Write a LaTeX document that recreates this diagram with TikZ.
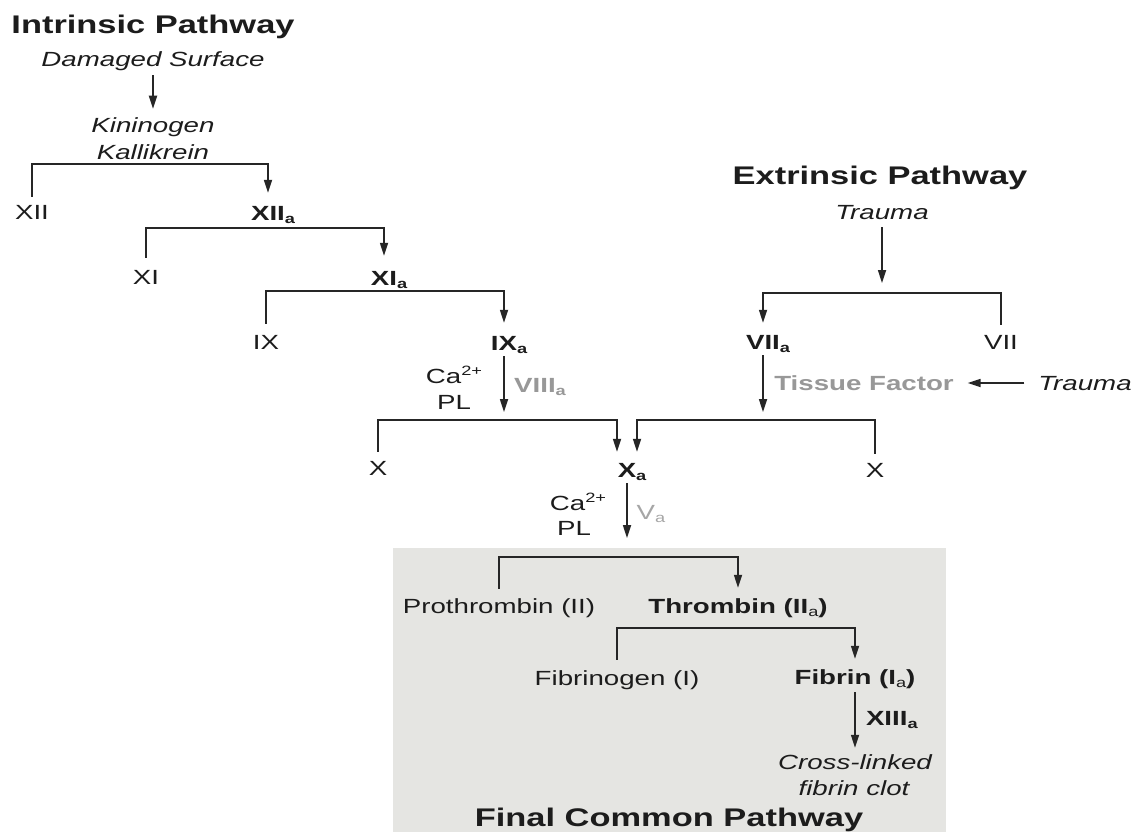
\documentclass[tikz,border=0pt]{standalone}
\usepackage{fontspec}
\setmainfont[FakeStretch=1.35]{Liberation Sans}
\usetikzlibrary{arrows.meta}
\definecolor{ink}{HTML}{1C1C1C}
\definecolor{ln}{HTML}{262626}
\definecolor{greytxt}{HTML}{989898}
\definecolor{greylt}{HTML}{A6A6A6}
\definecolor{boxfill}{HTML}{E5E5E2}
\newcommand\subs[1]{\rlap{\raisebox{-3pt}{\fontsize{13.5}{13.5}\selectfont #1}}}
\newcommand\subin[1]{\raisebox{-3pt}{\fontsize{13.5}{13.5}\selectfont #1}}
\newcommand\supx[1]{\raisebox{8pt}{\fontsize{13.5}{13.5}\selectfont #1}}
\begin{document}
\begin{tikzpicture}[x=1pt,y=-1pt,
  lab/.style={inner sep=0pt, outer sep=0pt, text height=14.5pt, text depth=0pt,
    font=\fontsize{20.5}{24}\selectfont, text=ink},
  ital/.style={lab, font=\fontsize{20.5}{24}\selectfont\itshape},
  bld/.style={lab, font=\fontsize{20.5}{24}\selectfont\bfseries},
  ttl/.style={inner sep=0pt, outer sep=0pt, text height=18pt, text depth=0pt,
    font=\fontsize{25.5}{30}\selectfont\bfseries, text=ink},
  arr/.style={draw=ln, line width=1.7pt, -{Triangle[length=13pt,width=8pt]}},
  ]
\useasboundingbox (0,0) rectangle (1138,832);
\fill[white] (0,0) rectangle (1138,832);
\fill[boxfill] (393,548) rectangle (946,832);

% helper levels
\coordinate (y1) at (0,164);
\coordinate (y2) at (0,228);
\coordinate (y3) at (0,291);
\coordinate (y4) at (0,420);
\coordinate (y5) at (0,293);
\coordinate (y6) at (0,557);
\coordinate (y7) at (0,628);
\coordinate (ye) at (0,538);

% Intrinsic pathway
\node[ttl] (tI) at (153,25) {Intrinsic Pathway};
\node[ital] (ds) at (153,59) {Damaged Surface};
\node[ital] (kin) at (153,125) {Kininogen};
\node[ital] (kal) at (153,152) {Kallikrein};
\node[lab] (XII) at (32,212) {XII};
\node[bld] (XIIa) at (268,213) {XII\subs{a}};
\node[lab] (XI) at (146,277) {XI};
\node[bld] (XIa) at (384,278) {XI\subs{a}};
\node[lab] (IX) at (266,342) {IX};
\node[bld] (IXa) at (504,343) {IX\subs{a}};
\node[lab] (Ca1) at (454,376) {Ca\supx{2+}};
\node[lab] (PL1) at (454,402) {PL};
\node[bld, text=greytxt] (VIII) at (540,385) {VIII\subin{a}};
\node[lab] (X1) at (378,468) {X};
\node[bld] (Xa) at (627,470) {X\subs{a}};
\node[lab] (Ca2) at (578,503) {Ca\supx{2+}};
\node[lab] (PL2) at (574,528) {PL};
\node[lab, text=greylt] (Va) at (651,512) {V\subin{a}};

% Extrinsic pathway
\node[ttl] (tE) at (880,176) {Extrinsic Pathway};
\node[ital] (tr1) at (882,212) {Trauma};
\node[bld] (VIIa) at (763,342) {VII\subs{a}};
\node[lab] (VII) at (1001,342) {VII};
\node[bld, text=greytxt] (TF) at (864,383) {Tissue Factor};
\node[ital] (tr2) at (1085,383) {Trauma};
\node[lab] (X2) at (875,470) {X};

% Final common pathway
\node[lab] (Pro) at (499,606) {Prothrombin (II)};
\node[bld] (Thr) at (738,606) {Thrombin (II\subin{\normalfont a})};
\node[lab] (Fib) at (617,678) {Fibrinogen (I)};
\node[bld] (Fbn) at (855,677) {Fibrin (I\subin{\normalfont a})};
\node[bld, anchor=west] (XIII) at (866,718) {XIII\subin{a}};
\node[ital] (cl) at (855,762) {Cross-linked};
\node[ital] (fc) at (854,788) {fibrin clot};
\node[ttl] (FCP) at (669,817) {Final Common Pathway};

% connectors: intrinsic
\draw[arr, shorten <=9pt, shorten >=9pt] (ds.south) -- (kin.north);
\draw[arr, shorten <=8pt, shorten >=13pt] (XII.north) -- (XII.north |- y1) -| (XIIa.north);
\draw[arr, shorten <=12pt, shorten >=15pt] (XI.north) -- (XI.north |- y2) -| (XIa.north);
\draw[arr, shorten <=11pt, shorten >=13pt] (IX.north) -- (IX.north |- y3) -| (IXa.north);
\draw[arr, shorten <=6pt, shorten >=8pt] (IXa.south) -- (IXa.south |- y4);
\draw[arr, shorten <=9pt, shorten >=11pt] (X1.north) -- (X1.north |- y4) -| ([xshift=-10pt]Xa.north);
\draw[arr, shorten <=6pt] (Xa.south) -- (Xa.south |- ye);

% connectors: extrinsic
\draw[arr, shorten <=8pt, shorten >=10pt] (tr1.south) -- (tr1.south |- y5);
\draw[arr, shorten <=10pt, shorten >=12pt] (VII.north) -- (VII.north |- y5) -| (VIIa.north);
\draw[arr, shorten <=6pt, shorten >=8pt] (VIIa.south) -- (VIIa.south |- y4);
\draw[arr, shorten <=14pt, shorten >=14pt] (tr2.west) -- (TF.east);
\draw[arr, shorten <=9pt, shorten >=11pt] (X2.north) -- (X2.north |- y4) -| ([xshift=10pt]Xa.north);

% connectors: final common
\draw[arr, shorten <=10pt, shorten >=11pt] (Pro.north) -- (Pro.north |- y6) -| (Thr.north);
\draw[arr, shorten <=11pt, shorten >=11pt] (Fib.north) -- (Fib.north |- y7) -| (Fbn.north);
\draw[arr, shorten <=8pt, shorten >=7pt] (Fbn.south) -- (cl.north);
\end{tikzpicture}
\end{document}
